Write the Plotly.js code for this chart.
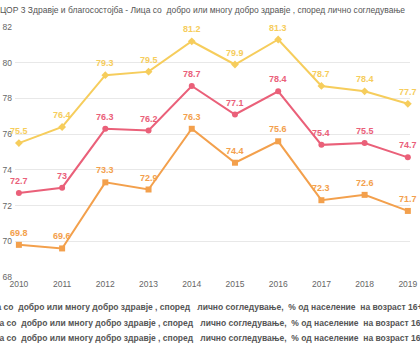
<!DOCTYPE html>
<html><head><meta charset="utf-8">
<script src="https://cdn.plot.ly/plotly-3.0.1.min.js"></script>
<style>html,body{margin:0;padding:0;background:#fff}#chart{width:420px;height:350px}</style>
</head><body><div id="chart"></div>
<script>
const years = [2010, 2011, 2012, 2013, 2014, 2015, 2016, 2017, 2018, 2019];
const seriesMen = [75.5, 76.4, 79.3, 79.5, 81.2, 79.9, 81.3, 78.7, 78.4, 77.7];
const seriesTotal = [72.7, 73, 76.3, 76.2, 78.7, 77.1, 78.4, 75.4, 75.5, 74.7];
const seriesWomen = [69.8, 69.6, 73.3, 72.9, 76.3, 74.4, 75.6, 72.3, 72.6, 71.7];
const seriesBase = "Лица со  добро или многу добро здравје , според   лично согледување,  % од население  на возраст 16+, ";
const seriesNames = [seriesBase + "Вкупно", seriesBase + "Мажи", seriesBase + "Жени"];
const titleText = "ЦОР 3 Здравје и благосостојба - Лица со  добро или многу добро здравје , според лично согледување";
const yTicks = [68, 70, 72, 74, 76, 78, 80, 82];

const FONT = "'Liberation Sans', Arial, sans-serif";
const colors = {men: '#F6CD5C', total: '#EA6079', women: '#F3A04C'};

function mk(y, name, color, symbol) {
  return {
    x: years, y: y, name: name, type: 'scatter', mode: 'lines+markers',
    line: {color: color, width: 2},
    marker: {color: color, size: 6, symbol: symbol},
    cliponaxis: false, showlegend: false, hoverinfo: 'x+y'
  };
}
const traces = [
  mk(seriesMen, seriesNames[1], colors.men, 'diamond'),
  mk(seriesTotal, seriesNames[0], colors.total, 'circle'),
  mk(seriesWomen, seriesNames[2], colors.women, 'square')
];

function labels(y, color) {
  return y.map((v, i) => ({
    x: years[i], y: v, xref: 'x', yref: 'y', text: String(v), showarrow: false,
    xanchor: 'center', yanchor: 'middle', yshift: 12,
    font: {family: FONT, size: 9, color: color, weight: 'bold'}
  }));
}

const legendShifts = [-37, -34, -34];
const legendY = [-30, -46, -61];
const legendAnn = seriesNames.map((n, i) => ({
  text: n, xref: 'paper', yref: 'paper', x: 0, y: 0, xanchor: 'left', yanchor: 'middle',
  xshift: legendShifts[i], yshift: legendY[i], showarrow: false,
  font: {family: FONT, size: 8.5, color: '#555', weight: 'bold'}
}));

const layout = {
  width: 420, height: 350,
  margin: {l: 15, r: 10, t: 27, b: 73, autoexpand: false},
  paper_bgcolor: '#fff', plot_bgcolor: '#fff',
  font: {family: FONT, size: 9, color: '#666'},
  title: {text: titleText, x: 0, xref: 'container', xanchor: 'left', y: 0.972, yref: 'container', yanchor: 'middle',
          font: {family: FONT, size: 8.5, color: '#555'}},
  xaxis: {range: [2009.91, 2019.05], tickvals: years, ticktext: years.map(String), showgrid: false,
          zeroline: false, showline: false, ticks: '', tickfont: {size: 8.5, color: '#666'}},
  yaxis: {range: [68, 82], tickvals: yTicks, showgrid: true, gridcolor: '#e8e8e8', gridwidth: 1,
          zeroline: false, showline: false, ticks: '', ticklabelstandoff: 2, tickfont: {size: 8.5, color: '#666'}},
  annotations: [].concat(labels(seriesMen, colors.men), labels(seriesTotal, colors.total), labels(seriesWomen, colors.women), legendAnn),
  showlegend: false
};
Plotly.newPlot('chart', traces, layout, {displayModeBar: false, staticPlot: true});
</script></body></html>
